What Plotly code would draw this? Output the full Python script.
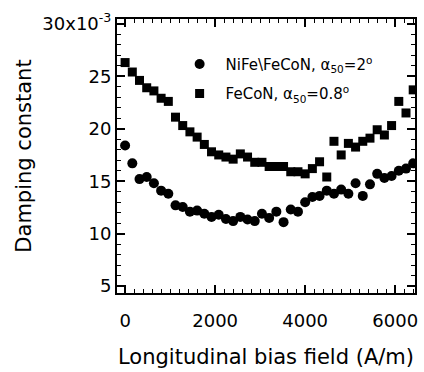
import plotly.graph_objects as go

field = [0, 160, 320, 480, 640, 800, 960, 1120, 1280, 1440, 1600, 1760, 1920, 2080,
         2240, 2400, 2560, 2720, 2880, 3040, 3200, 3360, 3520, 3680, 3840, 4000,
         4160, 4320, 4480, 4640, 4800, 4960, 5120, 5280, 5440, 5600, 5760, 5920,
         6080, 6240, 6400]

nife_fecon = [18.4, 16.7, 15.2, 15.4, 14.8, 14.1, 13.8, 12.7, 12.55, 12.1, 12.2, 11.9,
              11.6, 11.8, 11.4, 11.2, 11.6, 11.35, 11.2, 11.9, 11.5, 12.1, 11.1, 12.3,
              12.1, 13.0, 13.5, 13.6, 14.1, 13.8, 14.2, 13.8, 14.8, 13.6, 14.7, 15.7,
              15.3, 15.5, 16.0, 16.2, 16.7]

fecon = [26.3, 25.4, 24.6, 23.9, 23.6, 22.9, 22.6, 21.1, 20.3, 19.7, 19.2, 18.5,
         17.8, 17.5, 17.3, 17.1, 17.6, 17.3, 16.8, 16.8, 16.4, 16.4, 16.4, 15.9,
         15.9, 15.7, 16.2, 16.85, 15.4, 18.8, 17.5, 18.6, 18.25, 18.8, 19.1, 19.9,
         19.4, 20.3, 22.6, 21.5, 23.7]

names = ["NiFe\\FeCoN, α<sub>50</sub>=2<sup>o</sup>",
         "FeCoN, α<sub>50</sub>=0.8<sup>o</sup>"]

x_tickvals = [0, 2000, 4000, 6000]
x_ticktext = ["0", "2000", "4000", "6000"]
y_tickvals = [5, 10, 15, 20, 25, 30]
y_ticktext = ["5", "10", "15", "20", "25", "30x10<sup>-3</sup>"]

FONT = "DejaVu Sans"

fig = go.Figure()
fig.add_trace(go.Scatter(x=field, y=nife_fecon, mode="markers", name=names[0],
                         legendgroup="a",
                         marker=dict(symbol="circle", size=10, color="black")))
fig.add_trace(go.Scatter(x=field, y=fecon, mode="markers", name=names[1],
                         legendgroup="b",
                         marker=dict(symbol="square", size=9, color="black")))

axis_common = dict(showline=True, linecolor="black", linewidth=2, mirror="allticks",
                   ticks="inside", ticklen=8, tickwidth=1.5, tickcolor="black",
                   showgrid=False, zeroline=False,
                   tickfont=dict(family=FONT, size=18, color="black"))

fig.update_xaxes(range=[-180, 6440], tickvals=x_tickvals, ticktext=x_ticktext,
                 ticklabelstandoff=10,
                 minor=dict(dtick=200, tick0=0, ticks="inside", ticklen=4,
                            tickwidth=1.2, tickcolor="black", showgrid=False),
                 title=dict(text="Longitudinal bias field (A/m)",
                            font=dict(family=FONT, size=21, color="black"), standoff=20),
                 **axis_common)
fig.update_yaxes(range=[4.35, 30.45], tickvals=y_tickvals, ticktext=y_ticktext,
                 minor=dict(dtick=1, tick0=0, ticks="inside", ticklen=4,
                            tickwidth=1.2, tickcolor="black", showgrid=False),
                 title=dict(text="Damping constant",
                            font=dict(family=FONT, size=21, color="black"), standoff=5),
                 **axis_common)

fig.update_layout(
    width=424, height=372,
    margin=dict(l=117, r=6, t=19, b=79),
    paper_bgcolor="white", plot_bgcolor="white",
    showlegend=True,
    legend=dict(x=0.19, y=0.895, xanchor="left", yanchor="top",
                bgcolor="rgba(0,0,0,0)", font=dict(family=FONT, size=15, color="black"),
                itemwidth=42, tracegroupgap=7),
)

fig.write_html("out.html", config={"displayModeBar": False},
               post_script="document.body.style.margin='0px';")
